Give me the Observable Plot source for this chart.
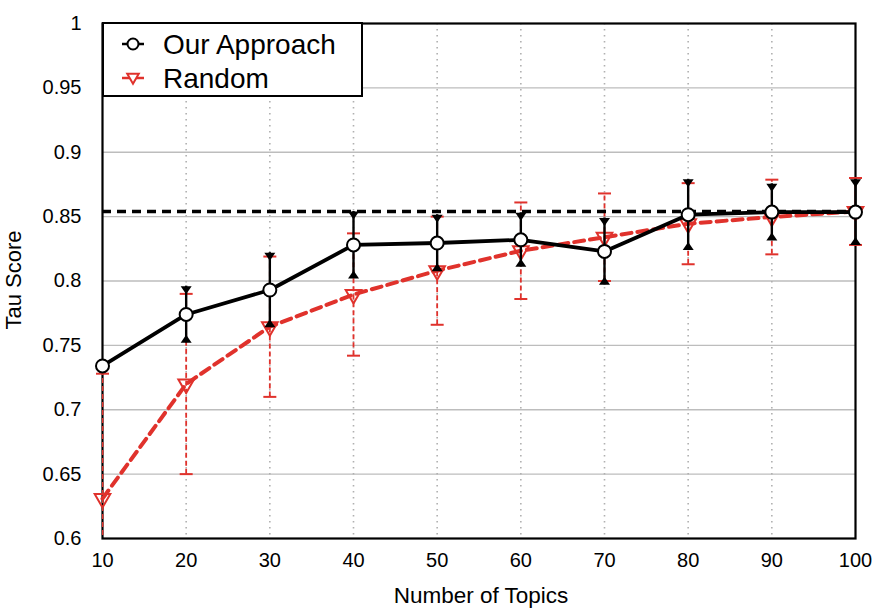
<!DOCTYPE html>
<html>
<head>
<meta charset="utf-8">
<script src="https://cdn.jsdelivr.net/npm/d3@7"></script>
<script src="https://cdn.jsdelivr.net/npm/@observablehq/plot@0.6"></script>
<style>
  html, body { margin: 0; padding: 0; background: #fff; }
  #chart { width: 873px; height: 610px; }
  svg { font-family: "Liberation Sans", Arial, Helvetica, sans-serif; }
</style>
</head>
<body>
<div id="chart"></div>
<script>
// Number of topics on the x axis
const topics = [10, 20, 30, 40, 50, 60, 70, 80, 90, 100];

// Mean Tau score and half-width of the error bar, per method
const oursMean = [0.734, 0.774, 0.793, 0.828, 0.8295, 0.832, 0.823, 0.8515, 0.8535, 0.8535];
const oursErr  = [0.002, 0.022, 0.029, 0.026, 0.022, 0.021, 0.026, 0.0275, 0.022, 0.0255];
const randMean = [0.631, 0.720, 0.7645, 0.7895, 0.808, 0.8235, 0.834, 0.8445, 0.8497, 0.854];
const randErr  = [0.097, 0.070, 0.0545, 0.0475, 0.042, 0.0375, 0.034, 0.0315, 0.029, 0.026];

// Horizontal reference level
const referenceLevel = [0.854];

// Axis ticks
const xTicks = [10, 20, 30, 40, 50, 60, 70, 80, 90, 100];
const xTickLabels = ["10", "20", "30", "40", "50", "60", "70", "80", "90", "100"];
const yTicks = [0.6, 0.65, 0.7, 0.75, 0.8, 0.85, 0.9, 0.95, 1];
const yTickLabels = ["0.6", "0.65", "0.7", "0.75", "0.8", "0.85", "0.9", "0.95", "1"];

const seriesNames = ["Our Approach", "Random"];
const red = "#e0322c";

const ours = topics.map((t, i) => ({x: t, y: oursMean[i], lo: oursMean[i] - oursErr[i], hi: oursMean[i] + oursErr[i]}));
const rand = topics.map((t, i) => ({x: t, y: randMean[i], lo: randMean[i] - randErr[i], hi: randMean[i] + randErr[i]}));

// Custom marker shapes: error bar end caps
const capDown = {draw(ctx) { ctx.moveTo(-5.5, 0); ctx.lineTo(5.5, 0); ctx.lineTo(0, 8); ctx.closePath(); }};
const capUp   = {draw(ctx) { ctx.moveTo(-5.5, 0); ctx.lineTo(5.5, 0); ctx.lineTo(0, -8); ctx.closePath(); }};
const capBar  = {draw(ctx) { ctx.moveTo(-6.5, 0); ctx.lineTo(6.5, 0); }};

const chart = Plot.plot({
  width: 873,
  height: 610,
  marginLeft: 102,
  marginRight: 18,
  marginTop: 23,
  marginBottom: 72,
  style: {fontFamily: "Liberation Sans, Arial, Helvetica, sans-serif", fontSize: "20px", color: "#000"},
  x: {domain: [10, 100]},
  y: {domain: [0.6, 1]},
  marks: [
    // grid
    Plot.ruleY(yTicks.slice(1, -1), {stroke: "#bdbdbd", strokeWidth: 1.3}),
    Plot.ruleX(xTicks.slice(1, -1), {stroke: "#b0b0b0", strokeWidth: 1.6, strokeDasharray: "1.6,4.4"}),
    Plot.frame({stroke: "#000", strokeWidth: 2.2}),
    Plot.axisX({ticks: xTicks, tickSize: 0, tickPadding: 14, tickFormat: d => xTickLabels[xTicks.indexOf(d)], fontSize: 20, label: null}),
    Plot.axisY({ticks: yTicks, tickSize: 0, tickPadding: 21, tickFormat: d => yTickLabels[yTicks.indexOf(d)], fontSize: 20, label: null}),

    // Random: error bars, line, markers
    Plot.ruleX(rand, {x: "x", y1: "lo", y2: "hi", stroke: red, strokeWidth: 1.8, strokeDasharray: "5,3", clip: true}),
    Plot.dot(rand.filter(d => d.lo >= 0.6), {x: "x", y: "lo", symbol: capBar, stroke: red, strokeWidth: 2, fill: "none"}),
    Plot.dot(rand, {x: "x", y: "hi", symbol: capBar, stroke: red, strokeWidth: 2, fill: "none"}),
    Plot.line(rand, {x: "x", y: "y", stroke: red, strokeWidth: 4, strokeDasharray: "10,6"}),
    Plot.dot(rand, {x: "x", y: "y", symbol: "triangle", rotate: 180, r: 5.8, stroke: red, strokeWidth: 2, fill: "none"}),

    // reference level
    Plot.ruleY(referenceLevel, {stroke: "#000", strokeWidth: 3.6, strokeDasharray: "9,6"}),

    // Our Approach: error bars, line, markers
    Plot.ruleX(ours, {x: "x", y1: "lo", y2: "hi", stroke: "#000", strokeWidth: 2.4}),
    Plot.dot(ours, {x: "x", y: "hi", symbol: capDown, fill: "#000", stroke: "none"}),
    Plot.dot(ours, {x: "x", y: "lo", symbol: capUp, fill: "#000", stroke: "none"}),
    Plot.line(ours, {x: "x", y: "y", stroke: "#000", strokeWidth: 3.8}),
    Plot.dot(ours, {x: "x", y: "y", r: 6.5, stroke: "#000", strokeWidth: 2, fill: "#fff"})
  ]
});

document.getElementById("chart").appendChild(chart);

const svg = d3.select(chart);

// axis titles
svg.append("text")
  .attr("x", 481).attr("y", 603)
  .attr("text-anchor", "middle")
  .attr("font-size", 22.5)
  .attr("fill", "#000")
  .text("Number of Topics");

svg.append("text")
  .attr("transform", "translate(21,280) rotate(-90)")
  .attr("text-anchor", "middle")
  .attr("font-size", 22)
  .attr("fill", "#000")
  .text("Tau Score");

// legend
const lg = svg.append("g");
lg.append("rect")
  .attr("x", 103).attr("y", 23).attr("width", 259).attr("height", 73)
  .attr("fill", "#fff").attr("stroke", "#000").attr("stroke-width", 2);

const rows = [
  {name: seriesNames[0], y: 44, color: "#000"},
  {name: seriesNames[1], y: 78, color: red}
];
rows.forEach((r, i) => {
  lg.append("line")
    .attr("x1", 122).attr("x2", 144).attr("y1", r.y).attr("y2", r.y)
    .attr("stroke", r.color).attr("stroke-width", 2.5);
  if (i === 0) {
    lg.append("circle").attr("cx", 133).attr("cy", r.y).attr("r", 5.5)
      .attr("fill", "#fff").attr("stroke", "#000").attr("stroke-width", 2);
  } else {
    lg.append("path")
      .attr("d", d3.symbol(d3.symbolTriangle2, 95)())
      .attr("transform", `translate(133,${r.y - 1}) rotate(180)`)
      .attr("fill", "#fff").attr("stroke", red).attr("stroke-width", 2);
  }
  lg.append("text")
    .attr("x", 163).attr("y", r.y + 10)
    .attr("text-anchor", "start")
    .attr("font-size", 28)
    .attr("fill", "#000")
    .text(r.name);
});
</script>
</body>
</html>
